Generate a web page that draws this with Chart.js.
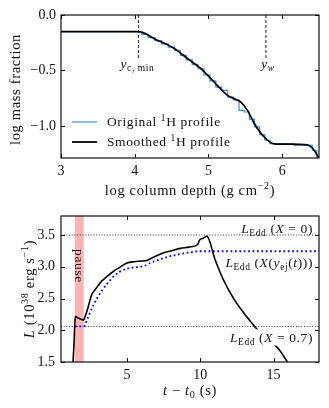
<!DOCTYPE html>
<html>
<head>
<meta charset="utf-8">
<script src="https://cdn.jsdelivr.net/npm/chart.js@4.4.1/dist/chart.umd.min.js"></script>
<style>
    body { margin: 0; background: #fff; }
    #top, #bottom { position: absolute; left: 0; }
    #top { top: 0; }
    #bottom { top: 200px; }
</style>
</head>
<body>
<canvas id="top" width="329" height="200"></canvas>
<canvas id="bottom" width="329" height="208"></canvas>
<script>
// ---- top panel: hydrogen profile ----
const smoothX = [3.0, 4.05, 4.3, 4.53, 4.71, 4.89, 5.07, 5.25, 5.38, 5.44, 5.53, 5.62, 5.75, 5.89, 6.1, 6.34, 6.41, 6.5];
const smoothY = [-0.15, -0.15, -0.225, -0.30, -0.39, -0.48, -0.60, -0.72, -0.765, -0.785, -0.86, -0.976, -1.096, -1.162, -1.165, -1.171, -1.20, -1.29];
const origX = [3.0, 4.05, 4.14, 4.23, 4.32, 4.41, 4.5, 4.58, 4.66, 4.74, 4.82, 4.9, 4.98, 5.06, 5.14, 5.22, 5.3, 5.38, 5.45, 5.52, 5.59, 5.66, 5.73, 5.8, 5.87, 5.95, 6.38, 6.44, 6.5];
const origY = [-0.15, -0.15, -0.175, -0.205, -0.232, -0.26, -0.29, -0.32, -0.365, -0.405, -0.445, -0.485, -0.54, -0.595, -0.65, -0.68, -0.74, -0.765, -0.86, -0.875, -0.94, -1.01, -1.08, -1.13, -1.16, -1.163, -1.175, -1.22, -1.29];
const markerX = [4.05, 5.78];
const markerTop = 0;
const markerBottom = -0.39;
const topXTicks = [3, 4, 5, 6];
const topXTickLabels = ['3', '4', '5', '6'];
const topYTicks = [0, -0.5, -1.0];
const topYTickLabels = ['0.0', '\u22120.5', '\u22121.0'];

// ---- bottom panel: luminosity ----
const lumT = [1.32, 1.38, 1.44, 1.48, 1.6, 1.8, 2.04, 2.15, 2.31, 2.45, 2.61, 2.8, 3.18, 3.6, 4.09, 4.5, 5.0, 5.5, 6.0, 6.36, 6.8, 7.5, 8.0, 8.64, 9.2, 9.77, 9.85, 9.95, 10.2, 10.45, 11.0, 11.59, 12.3, 13.18, 13.86, 14.77, 15.4, 15.95];
const lumL = [1.5, 1.75, 2.1, 2.22, 2.2, 2.18, 2.16, 2.22, 2.33, 2.45, 2.57, 2.63, 2.75, 2.84, 2.93, 2.99, 3.06, 3.08, 3.09, 3.10, 3.15, 3.22, 3.25, 3.29, 3.31, 3.34, 3.36, 3.42, 3.45, 3.48, 3.12, 2.79, 2.49, 2.21, 2.02, 1.84, 1.69, 1.5];
const ejT = [1.45, 2.05, 2.27, 2.5, 2.72, 2.95, 3.3, 3.64, 4.09, 4.5, 5.0, 5.5, 6.13, 6.6, 7.27, 8.0, 8.64, 9.3, 10.0, 18.1];
const ejL = [2.06, 2.06, 2.16, 2.29, 2.40, 2.50, 2.63, 2.73, 2.85, 2.92, 2.97, 2.99, 3.01, 3.06, 3.12, 3.17, 3.20, 3.23, 3.245, 3.245];
const eddX0 = 3.5;
const eddX07 = 2.06;
const eddEj = 3.245;
const pauseRange = [1.45, 2.05];
const botXTicks = [5, 10, 15];
const botXTickLabels = ['5', '10', '15'];
const botYTicks = [1.5, 2.0, 2.5, 3.0, 3.5];
const botYTickLabels = ['1.5', '2.0', '2.5', '3.0', '3.5'];

const FONT = '"Liberation Serif", "DejaVu Serif", serif';
const INK = '#111';

function pts(xs, ys) {
    return xs.map((x, i) => ({ x: x, y: ys[i] }));
}

// draws text made of runs: {t, i (italic), sub, sup}
function drawRich(ctx, runs, x, y, size, align, rot, bg) {
    ctx.save();
    ctx.letterSpacing = (size * 0.045).toFixed(2) + 'px';
    const fontOf = (r) => (r.i ? 'italic ' : '') + ((r.sub || r.sup) ? size * 0.7 : size) + 'px ' + FONT;
    let w = 0;
    runs.forEach(r => { ctx.font = fontOf(r); r.w = ctx.measureText(r.t).width; w += r.w; });
    ctx.translate(x, y);
    if (rot) ctx.rotate(rot);
    let cx = align === 'right' ? -w : align === 'center' ? -w / 2 : 0;
    if (bg) {
        ctx.fillStyle = '#fff';
        ctx.fillRect(cx - 2, -size * 0.6, w + 4, size * 1.2);
    }
    ctx.fillStyle = INK;
    ctx.textBaseline = 'alphabetic';
    ctx.textAlign = 'left';
    const base = size * 0.33;
    runs.forEach(r => {
        ctx.font = fontOf(r);
        let dy = base;
        if (r.sub) dy += size * 0.22;
        if (r.sup) dy -= size * 0.38;
        ctx.fillText(r.t, cx, dy);
        cx += r.w;
    });
    ctx.restore();
}

// box with inward ticks on all sides
const frame = {
    id: 'frame',
    afterDraw(chart) {
        const { ctx, chartArea: a, scales } = chart;
        ctx.save();
        ctx.strokeStyle = INK;
        ctx.lineWidth = 1;
        ctx.beginPath();
        scales.x.ticks.forEach(t => {
            const px = Math.round(scales.x.getPixelForValue(t.value)) + 0.5;
            ctx.moveTo(px, a.bottom); ctx.lineTo(px, a.bottom - 4);
            ctx.moveTo(px, a.top); ctx.lineTo(px, a.top + 4);
        });
        scales.y.ticks.forEach(t => {
            const py = Math.round(scales.y.getPixelForValue(t.value)) + 0.5;
            ctx.moveTo(a.left, py); ctx.lineTo(a.left + 4, py);
            ctx.moveTo(a.right, py); ctx.lineTo(a.right - 4, py);
        });
        ctx.stroke();
        ctx.lineWidth = 1.2;
        ctx.strokeRect(a.left, a.top, a.right - a.left, a.bottom - a.top);
        ctx.restore();
    }
};

function axis(min, max, tickVals, tickLabels, fitSize, isX, pad) {
    return {
        type: 'linear',
        min: min,
        max: max,
        grid: { display: false, drawTicks: false },
        border: { display: false },
        afterBuildTicks: (s) => { s.ticks = tickVals.map(v => ({ value: v })); },
        afterFit: (s) => { if (isX) s.height = fitSize; else s.width = fitSize; },
        ticks: {
            padding: pad,
            color: INK,
            font: { family: FONT, size: 14 },
            maxRotation: 0,
            autoSkip: false,
            callback: (v, i) => tickLabels[i]
        }
    };
}

const baseOpts = {
    responsive: false,
    animation: false,
    devicePixelRatio: 1,
    plugins: { legend: { display: false }, tooltip: { enabled: false } },
    elements: { point: { radius: 0 } }
};

// top chart
const topDecor = {
    id: 'topDecor',
    afterDraw(chart) {
        const { ctx, chartArea: a, scales: { x, y } } = chart;
        drawRich(ctx, [{ t: 'y', i: 1 }, { t: 'c, min', sub: 1 }], x.getPixelForValue(markerX[0]) - 1, 64, 13.5, 'center');
        drawRich(ctx, [{ t: 'y', i: 1 }, { t: 'w', i: 1, sub: 1 }], x.getPixelForValue(markerX[1]) + 2, 64, 13.5, 'center');
        // legend
        ctx.save();
        ctx.lineWidth = 1.2;
        ctx.strokeStyle = '#3b8fd5';
        ctx.beginPath(); ctx.moveTo(72, 122); ctx.lineTo(97, 122); ctx.stroke();
        ctx.lineWidth = 1.8;
        ctx.strokeStyle = '#000';
        ctx.beginPath(); ctx.moveTo(72, 142); ctx.lineTo(97, 142); ctx.stroke();
        ctx.restore();
        drawRich(ctx, [{ t: 'Original ' }, { t: '1', sup: 1 }, { t: 'H profile' }], 107, 122, 13.5, 'left');
        drawRich(ctx, [{ t: 'Smoothed ' }, { t: '1', sup: 1 }, { t: 'H profile' }], 107, 142, 13.5, 'left');
        // axis titles
        drawRich(ctx, [{ t: 'log column depth (g cm' }, { t: '\u22122', sup: 1 }, { t: ')' }], (a.left + a.right) / 2, 190, 14.5, 'center');
        drawRich(ctx, [{ t: 'log mass fraction' }], 15, (a.top + a.bottom) / 2 + 3, 14.5, 'center', -Math.PI / 2);
    }
};

new Chart(document.getElementById('top').getContext('2d'), {
    type: 'scatter',
    data: {
        datasets: [
            {
                label: 'Smoothed 1H profile',
                data: pts(smoothX, smoothY),
                showLine: true,
                borderColor: '#000',
                borderWidth: 1.7,
                cubicInterpolationMode: 'monotone'
            },
            {
                label: 'Original 1H profile',
                data: pts(origX, origY),
                showLine: true,
                borderColor: '#3b8fd5',
                borderWidth: 1.2,
                stepped: 'middle'
            },
            {
                data: [{ x: markerX[0], y: markerTop }, { x: markerX[0], y: markerBottom }],
                showLine: true,
                borderColor: '#222',
                borderWidth: 1,
                borderDash: [3, 2]
            },
            {
                data: [{ x: markerX[1], y: markerTop }, { x: markerX[1], y: markerBottom }],
                showLine: true,
                borderColor: '#222',
                borderWidth: 1,
                borderDash: [3, 2]
            }
        ]
    },
    options: Object.assign({}, baseOpts, {
        layout: { padding: { top: 15, right: 10, left: 0, bottom: 0 } },
        scales: {
            x: axis(3, 6.5, topXTicks, topXTickLabels, 42, true, 5),
            y: axis(-1.29, 0, topYTicks, topYTickLabels, 61, false, 5)
        }
    }),
    plugins: [frame, topDecor]
});

// bottom chart
const botDecor = {
    id: 'botDecor',
    beforeDatasetsDraw(chart) {
        const { ctx, chartArea: a, scales: { x } } = chart;
        const x0 = x.getPixelForValue(pauseRange[0]);
        const x1 = x.getPixelForValue(pauseRange[1]);
        ctx.save();
        ctx.fillStyle = '#ffb3b3';
        ctx.fillRect(x0, a.top, x1 - x0, a.bottom - a.top);
        ctx.restore();
    },
    afterDatasetsDraw(chart) {
        const { ctx, chartArea: a, scales: { x, y } } = chart;
        const xr = a.right - 6;
        const L = [{ t: 'L', i: 1 }, { t: 'Edd', sub: 1 }, { t: ' (' }];
        drawRich(ctx, L.concat([{ t: 'X', i: 1 }, { t: ' = 0)' }]), xr, y.getPixelForValue(eddX0) - 6, 13.5, 'right');
        drawRich(ctx, L.concat([{ t: 'X', i: 1 }, { t: '(' }, { t: 'y', i: 1 }, { t: 'ej', sub: 1 }, { t: '(' }, { t: 't', i: 1 }, { t: ')))' }]), xr, y.getPixelForValue(eddEj) + 11, 13.5, 'right');
        drawRich(ctx, L.concat([{ t: 'X', i: 1 }, { t: ' = 0.7)' }]), xr, y.getPixelForValue(eddX07) + 11, 13.5, 'right', 0, true);
        drawRich(ctx, [{ t: 'pause' }], (x.getPixelForValue(pauseRange[0]) + x.getPixelForValue(pauseRange[1])) / 2, 66, 13.5, 'center', Math.PI / 2);
        drawRich(ctx, [{ t: 't', i: 1 }, { t: ' \u2212 ' }, { t: 't', i: 1 }, { t: '0', sub: 1 }, { t: ' (s)' }], (a.left + a.right) / 2, 190, 14.5, 'center');
        drawRich(ctx, [{ t: 'L', i: 1 }, { t: ' (10' }, { t: '38', sup: 1 }, { t: ' erg s' }, { t: '\u22121', sup: 1 }, { t: ')' }], 29, (a.top + a.bottom) / 2, 14.5, 'center', -Math.PI / 2);
    }
};

new Chart(document.getElementById('bottom').getContext('2d'), {
    type: 'scatter',
    data: {
        datasets: [
            {
                label: 'L',
                data: pts(lumT, lumL),
                showLine: true,
                borderColor: '#000',
                borderWidth: 1.6,
                cubicInterpolationMode: 'monotone'
            },
            {
                label: 'LEdd X(yej)',
                data: pts(ejT, ejL),
                showLine: true,
                borderColor: '#0a0aff',
                borderWidth: 1.8,
                borderDash: [1.8, 2.6],
                cubicInterpolationMode: 'monotone'
            },
            {
                label: 'LEdd X=0',
                data: [{ x: 0.5, y: eddX0 }, { x: 18.1, y: eddX0 }],
                showLine: true,
                borderColor: '#333',
                borderWidth: 1,
                borderDash: [1, 1.7]
            },
            {
                label: 'LEdd X=0.7',
                data: [{ x: 0.5, y: eddX07 }, { x: 18.1, y: eddX07 }],
                showLine: true,
                borderColor: '#333',
                borderWidth: 1,
                borderDash: [1, 1.7]
            }
        ]
    },
    options: Object.assign({}, baseOpts, {
        layout: { padding: { top: 16, right: 10, left: 0, bottom: 0 } },
        scales: {
            x: axis(0.5, 18.1, botXTicks, botXTickLabels, 46, true, 5),
            y: axis(1.5, 3.8, botYTicks, botYTickLabels, 61, false, 6)
        }
    }),
    plugins: [frame, botDecor]
});
</script>
</body>
</html>
